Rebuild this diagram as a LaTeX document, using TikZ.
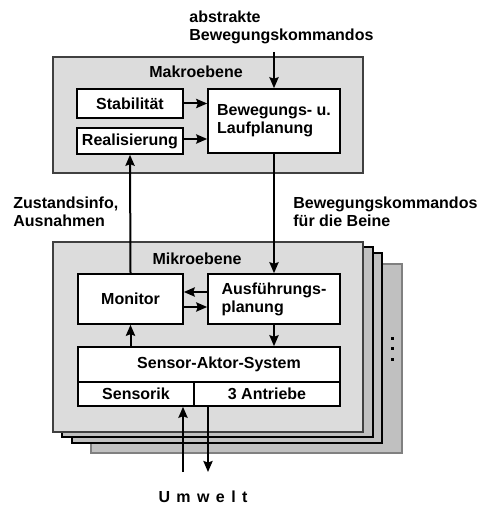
\documentclass[tikz,border=0pt]{standalone}
\usepackage{fontspec}
\setmainfont{Liberation Sans}
\usetikzlibrary{arrows.meta, positioning, calc}
\definecolor{panelgray}{HTML}{DCDCDC}
\definecolor{stackgray}{HTML}{C0C0C0}
\definecolor{edgegray}{HTML}{404040}

\begin{document}
\begin{tikzpicture}[x=0.5pt, y=-0.5pt,
    every node/.style={font=\fontsize{8}{9}\selectfont\bfseries},
    panel/.style={rectangle, draw=edgegray, fill=panelgray, line width=0.6pt, inner sep=0pt},
    layer/.style={draw=black, fill=stackgray, line width=0.6pt},
    unit/.style={rectangle, draw=black, fill=white, line width=0.8pt, inner sep=2pt, align=center},
    note/.style={align=left, inner sep=0pt},
    arr/.style={-{Stealth[length=5.5pt, width=4.6pt, inset=0.8pt]}, line width=1pt}]

  \useasboundingbox (0,0) rectangle (478,506);

  % Makroebene
  \node[panel, minimum width=155pt, minimum height=58pt] (makro) at (208,115) {};
  \node (makrotitle) at (196,72) {Makroebene};
  \node[unit, minimum width=53pt, minimum height=14.5pt] (stab) at (130,103.5) {Stabilit\"at};
  \node[unit, minimum width=53pt, minimum height=13pt] (real) at (130,141) {Realisierung};
  \node[unit, align=left, minimum width=66pt, minimum height=32pt] (bew) at (274,121) {Bewegungs- u.\\Laufplanung};

  % stacked copies of the Mikroebene, back to front
  \draw[layer, draw=gray] (91,264) rectangle (402,453);
  \draw[layer] (72,253) rectangle (382,443);
  \draw[layer] (62,247) rectangle (373,437);
  \foreach \y in {338,348,359}
    \fill (390.5,\y-1.5) rectangle (393.5,\y+1.5);

  % Mikroebene
  \node[panel, minimum width=155pt, minimum height=95pt] (mikro) at (208,337) {};
  \node (mikrotitle) at (197,259) {Mikroebene};
  \node[unit, minimum width=52.5pt, minimum height=25pt] (mon) at (130.5,299) {Monitor};
  \node[unit, align=left, minimum width=66pt, minimum height=25pt] (ausf) at (274,299) {Ausf\"uhrungs-\\planung};
  \node[unit, minimum width=131pt, minimum height=17.5pt] (sas) at (209,364.5) {\hspace*{10pt}Sensor-Aktor-System};
  \node[unit, minimum width=58pt, minimum height=12pt] (sens) at (136,394) {Sensorik};
  \node[unit, minimum width=73pt, minimum height=12pt] (antr) at (267,394) {3 Antriebe};

  % labels outside the panels
  \node[note, anchor=north west] (cmdtxt) at (189,10.5) {abstrakte\\Bewegungskommandos};
  \node[note, anchor=north west] (statetxt) at (13,197) {Zustandsinfo,\\Ausnahmen};
  \node[note, anchor=north west] (legtxt) at (293,197) {Bewegungskommandos\\f\"ur die Beine};
  \node (umwelt) at (203,497) {\addfontfeature{LetterSpace=40}Umwelt};

  % connections
  \coordinate (cmdtop) at (274,52);
  \coordinate (sensin) at (183,472);
  \coordinate (antrout) at (208,472);

  \draw[arr] (cmdtop) -- (bew.north);
  \draw[arr] (stab.east) -- (stab.east -| bew.west);
  \draw[arr] ([yshift=1pt]real.east) -- ([yshift=1pt]real.east -| bew.west);
  \draw[arr] (mon.north) -- (real.south);
  \draw[arr] (bew.south) -- (ausf.north);
  \draw[arr] ([yshift=3.5pt]ausf.west) -- ([yshift=3.5pt]mon.east);
  \draw[arr] ([yshift=-4pt]mon.east) -- ([yshift=-4pt]ausf.west);
  \draw[arr] (ausf.south) -- (ausf.south |- sas.north);
  \draw[arr] (mon.south |- sas.north) -- (mon.south);
  \draw[arr] (sensin) -- (sensin |- sens.south);
  \draw[arr] (antrout |- antr.south) -- (antrout);
\end{tikzpicture}
\end{document}
